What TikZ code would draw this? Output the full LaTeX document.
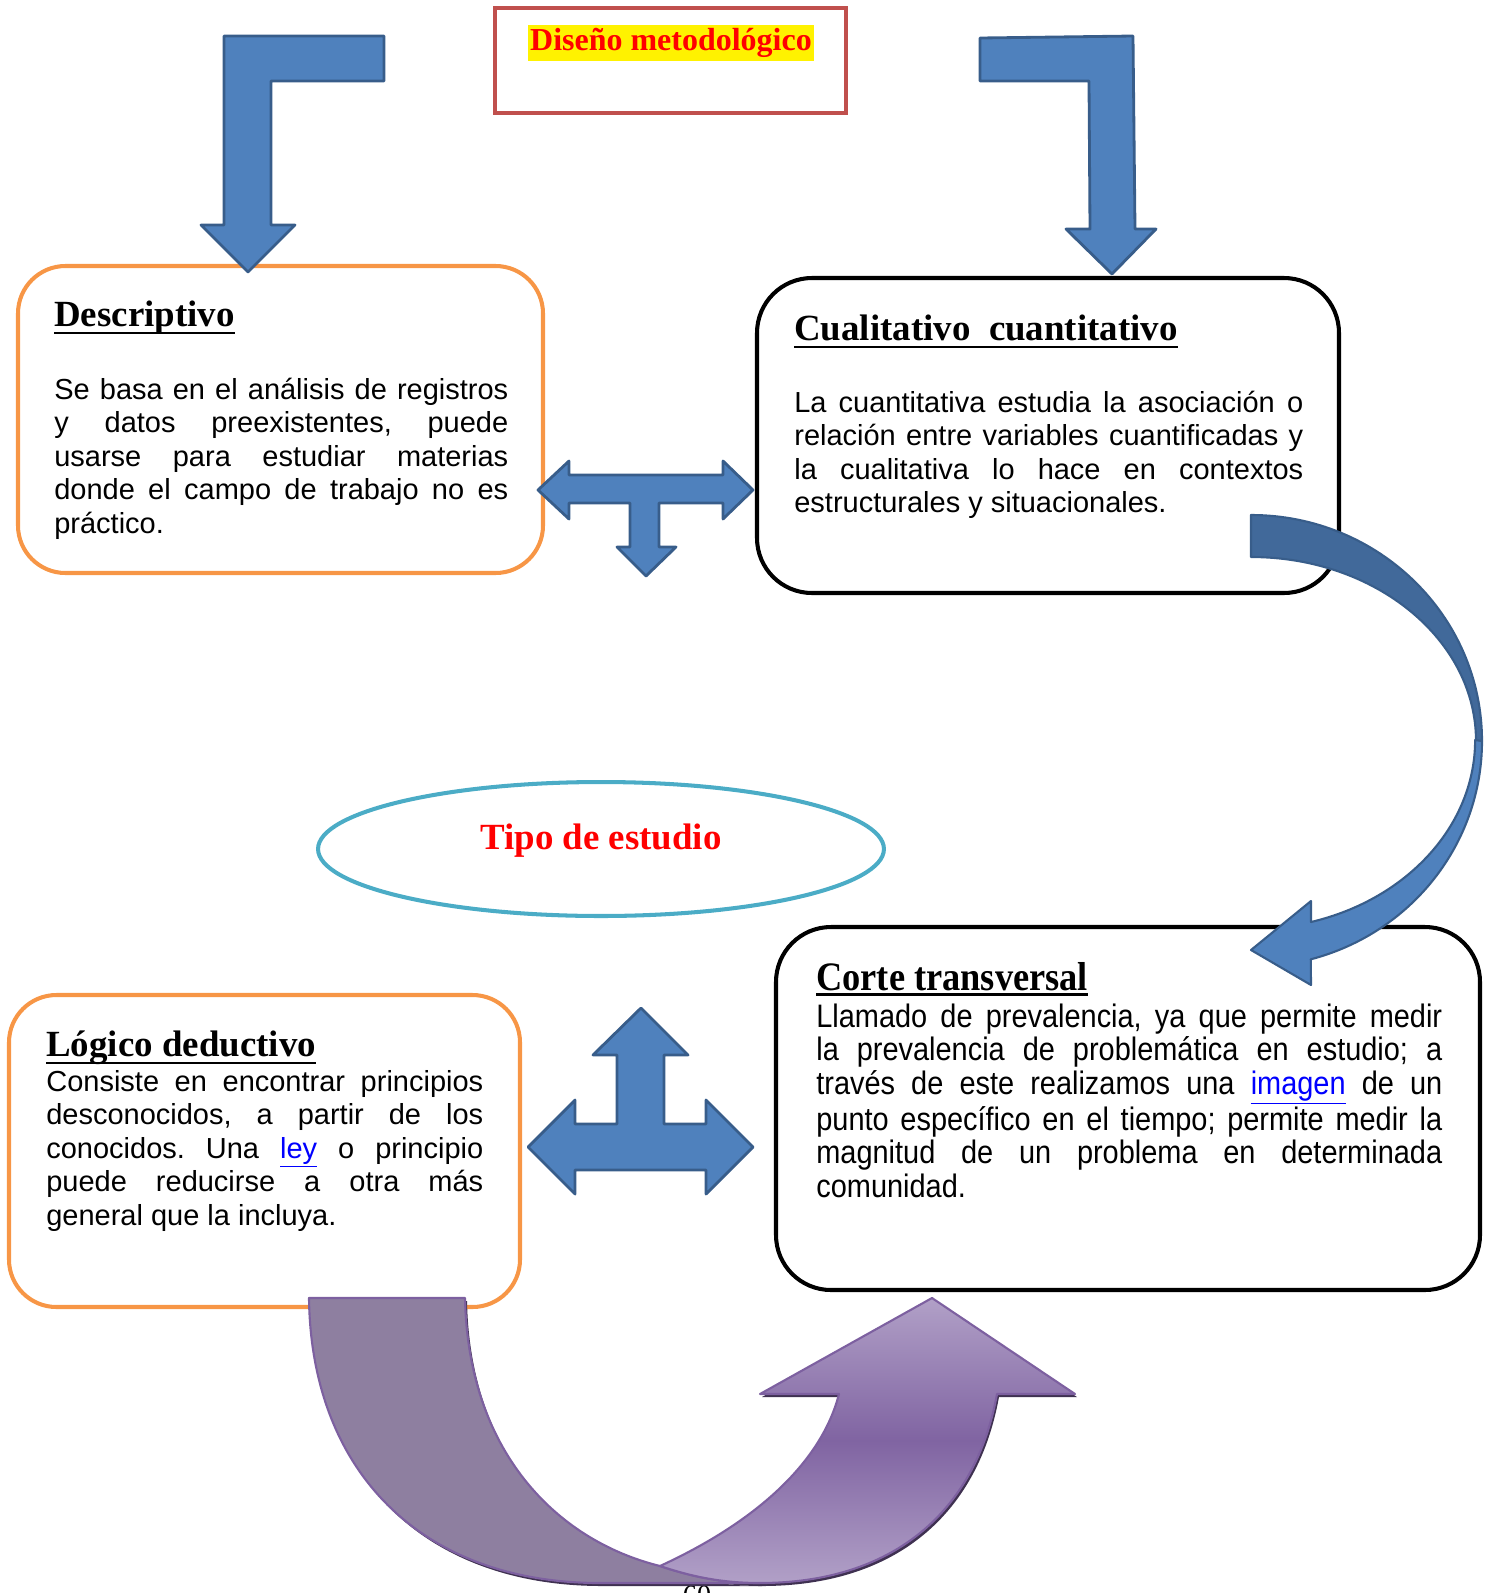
\documentclass[tikz,border=0pt]{standalone}
\usepackage{fontspec}
\setmainfont{Liberation Serif}
\setsansfont{Liberation Sans}
\newfontfamily\narrowsans[FakeStretch=0.89]{Liberation Sans}
\newfontfamily\narrowserif[FakeStretch=0.9]{Liberation Serif}
\usepackage{xcolor}
\usepackage{tikz}
\usetikzlibrary{positioning,fit,shapes.geometric}

\definecolor{boxorange}{HTML}{F79646}
\definecolor{framered}{HTML}{C0504D}
\definecolor{ellblue}{HTML}{4BACC6}
\definecolor{arrowblue}{HTML}{4F81BD}
\definecolor{arrowline}{HTML}{385D8A}
\definecolor{arrowback}{HTML}{41699A}
\definecolor{purpleback}{HTML}{8E7FA0}
\definecolor{purplelight}{HTML}{B1A0C7}
\definecolor{purpledark}{HTML}{8064A2}
\definecolor{purpleline}{HTML}{7D60A0}
\definecolor{purpleshadow}{HTML}{3F3151}
\newcommand{\weblink}[1]{\textcolor{blue}{\underline{#1}}}
\hyphenpenalty=10000
\exhyphenpenalty=10000
\frenchspacing

\begin{document}
\begin{tikzpicture}[x=0.02cm, y=-0.02cm,
card/.style={draw=black, line width=2.3pt, rounded corners=1.1cm, inner sep=0pt},
warm/.style={card, draw=boxorange, rounded corners=0.95cm},
heading/.style={anchor=base west, inner sep=0pt, font=\fontsize{21}{25}\selectfont\bfseries},
body/.style={anchor=base west, inner sep=0pt, align=justify,
             font=\sffamily\fontsize{16.5}{19.1}\selectfont\frenchspacing},
headrule/.style={line width=1.5pt},
blockarrow/.style={fill=arrowblue, draw=arrowline, line width=1.6pt, line join=round},
purplearrow/.style={draw=purpleline, line width=1.2pt, line join=round}
]
\useasboundingbox (0,0) rectangle (1489,1593);

\node[draw=framered, line width=2.5pt, inner sep=0pt, fit={(495,8) (846,113)}] (frame) {};
\node[fill=yellow, text=red, inner xsep=1pt, inner ysep=2pt,
      font=\fontsize{18.2}{21}\selectfont\bfseries] (disenio) at (671,43) {Diseño metodológico};

\node[warm, fit={(18,266) (543,573)}] (desc) {};
\node[card, fit={(757,278) (1339,593)}] (cuali) {};
\node[card, fit={(776,927) (1480,1290)}] (corte) {};
\node[warm, fit={(9,995) (520,1307)}] (logico) {};

\node[heading] (desctit) at (54,326) {Descriptivo};
\draw[headrule] ([yshift=-4pt]desctit.base west) -- ([yshift=-4pt]desctit.base east);
\node[body, text width=9.08cm] (desctxt) at (54,399)
{Se basa en el análisis de registros\linebreak y datos preexistentes, puede\linebreak
usarse para estudiar materias\linebreak donde el campo de trabajo no es\linebreak práctico.};

\node[heading] (cualitit) at (794,340) {Cualitativo\ \ cuantitativo};
\draw[headrule] ([yshift=-4pt]cualitit.base west) -- ([yshift=-4pt]cualitit.base east);
\node[body, text width=10.18cm] (cualitxt) at (794,412)
{La cuantitativa estudia la asociación o\linebreak relación entre variables cuantificadas y\linebreak
la cualitativa lo hace en contextos\linebreak estructurales y situacionales.};

\node[heading, font=\narrowserif\fontsize{23}{27}\selectfont\bfseries] (cortetit) at (816,990) {Corte transversal};
\draw[headrule] ([yshift=-2.5pt]cortetit.base west) -- ([yshift=-2.5pt]cortetit.base east);
\node[body, text width=12.52cm, font=\narrowsans\fontsize{18.5}{19.1}\selectfont\frenchspacing] (cortetxt) at (816,1027)
{Llamado de prevalencia, ya que permite medir\linebreak la prevalencia de problemática en estudio; a\linebreak
través de este realizamos una \weblink{imagen} de un\linebreak punto específico en el tiempo; permite medir la\linebreak
magnitud de un problema en determinada\linebreak comunidad.};

\node[heading] (logicotit) at (46,1056) {Lógico deductivo};
\draw[headrule] ([yshift=-4pt]logicotit.base west) -- ([yshift=-4pt]logicotit.base east);
\node[body, text width=8.74cm] (logicotxt) at (46,1091)
{Consiste en encontrar principios\linebreak desconocidos, a partir de los\linebreak
conocidos. Una \weblink{ley} o principio\linebreak puede reducirse a otra más\linebreak general que la incluya.};

\node[ellipse, draw=ellblue, line width=2.3pt, minimum width=11.32cm, minimum height=2.68cm] (tipo) at (601,849) {};
\node[text=red, font=\fontsize{21}{25}\selectfont\bfseries] (tipotxt) at ([yshift=0.16cm]tipo.center) {Tipo de estudio};

\node[anchor=north, inner sep=0pt, font=\fontsize{16}{18}\selectfont] (pagina) at (697,1585) {60};

\draw[blockarrow] (224,36) -- (384,36) -- (384,81) -- (271,81) -- (271,225) -- (295,225)
  -- (248,272) -- (201,225) -- (224,225) -- cycle;
\draw[blockarrow] (980,38) -- (1133,36) -- (1135,229) -- (1156,229) -- (1112,274)
  -- (1066,229) -- (1090,229) -- (1089,81) -- (980,81) -- cycle;

\draw[blockarrow] (538,490) -- (569,461) -- (569,475) -- (723,475) -- (723,461) -- (753,490)
  -- (723,519) -- (723,503) -- (659,503) -- (659,547) -- (676,547) -- (646,576)
  -- (617,547) -- (630,547) -- (630,503) -- (569,503) -- (569,519) -- cycle;

\draw[blockarrow] (641,1008) -- (688,1055) -- (664,1055) -- (664,1124) -- (706,1124)
  -- (706,1100) -- (753,1147) -- (706,1194) -- (706,1170) -- (575,1170) -- (575,1194)
  -- (528,1147) -- (575,1100) -- (575,1124) -- (617,1124) -- (617,1055) -- (593,1055) -- cycle;

\filldraw[fill=arrowback, draw=arrowline, line width=1.2pt, line join=round]
  (1251,515) arc[start angle=-90, end angle=0, x radius=231, y radius=226]
  -- (1476,741) arc[start angle=0, end angle=-90, x radius=225, y radius=184] -- cycle;
\draw[blockarrow, line width=1.2pt]
  (1482,741) arc[start angle=0, end angle=75, x radius=231, y radius=226]
  -- (1311,985) -- (1251,950) -- (1311,901) -- (1311,922)
  arc[start angle=74.3, end angle=0, x radius=225, y radius=189] -- cycle;

\begin{scope}[shift={(2,3)}]
\fill[purpleshadow] (309,1298) -- (465,1298) .. controls (468,1450) and (555,1540) .. (660,1566)
  .. controls (690,1576) and (720,1583) .. (760,1583) -- (600,1583)
  .. controls (420,1583) and (311,1470) .. (309,1298) -- cycle;
\fill[purpleshadow] (660,1566) .. controls (760,1520) and (822,1460) .. (839,1394) -- (760,1394)
  -- (932,1298) -- (1075,1394) -- (997,1394) .. controls (975,1515) and (890,1583) .. (760,1583)
  .. controls (720,1583) and (690,1576) .. (660,1566) -- cycle;
\end{scope}
\filldraw[purplearrow, fill=purpleback] (309,1298) -- (465,1298)
  .. controls (468,1450) and (555,1540) .. (660,1566)
  .. controls (690,1576) and (720,1583) .. (760,1583) -- (600,1583)
  .. controls (420,1583) and (311,1470) .. (309,1298) -- cycle;
\shade[purplearrow, top color=purplelight, bottom color=purplelight, middle color=purpledark]
  (660,1566) .. controls (760,1520) and (822,1460) .. (839,1394) -- (760,1394)
  -- (932,1298) -- (1075,1394) -- (997,1394) .. controls (975,1515) and (890,1583) .. (760,1583)
  .. controls (720,1583) and (690,1576) .. (660,1566) -- cycle;
\end{tikzpicture}
\end{document}
